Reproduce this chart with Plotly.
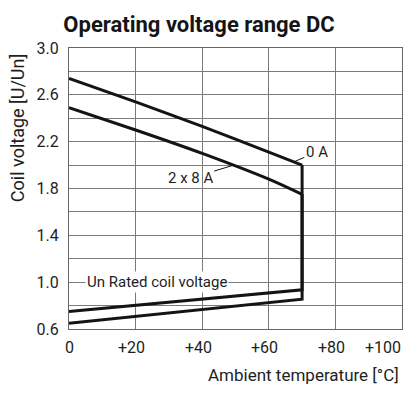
import plotly.graph_objects as go

# ---- data ----
temp = [0, 20, 40, 60, 70]                      # ambient temperature [°C]
v_max_0A = [2.74, 2.54, 2.33, 2.11, 2.00]       # upper limit, 0 A
v_max_2x8A = [2.49, 2.30, 2.10, 1.88, 1.75]     # upper limit, 2 x 8 A
temp_min = [0, 70]
v_min_0A = [0.65, 0.855]                        # lower limit, 0 A
v_min_2x8A = [0.75, 0.935]                      # lower limit, 2 x 8 A

x_tick_vals = [0, 20, 40, 60, 80, 100]
x_tick_text = ["0", "+20", "+40", "+60", "+80", "+100"]
y_tick_vals = [0.6, 1.0, 1.4, 1.8, 2.2, 2.6, 3.0]
y_tick_text = ["0.6", "1.0", "1.4", "1.8", "2.2", "2.6", "3.0"]

FONT = "Roboto, Liberation Sans, sans-serif"
TXT = "#1e1e1e"
LINE = "#141414"
GRID = "#7a7a7a"

# the page body has an 8px default margin, so the figure is 8px smaller
W, H = 411, 387

fig = go.Figure()
# upper limits: smooth curves
for v_max, name in [(v_max_0A, "0 A"), (v_max_2x8A, "2 x 8 A")]:
    fig.add_trace(go.Scatter(
        x=temp, y=v_max, mode="lines", line=dict(color=LINE, width=3, shape="spline", smoothing=0.8),
        name=name, hoverinfo="skip"))
# vertical limit at the maximum temperature plus lower limits
for v_max, v_min, name in [(v_max_0A, v_min_0A, "0 A"), (v_max_2x8A, v_min_2x8A, "2 x 8 A")]:
    fig.add_trace(go.Scatter(
        x=[temp[-1]] + temp_min[::-1], y=[v_max[-1]] + v_min[::-1],
        mode="lines", line=dict(color=LINE, width=3), name=name, hoverinfo="skip"))

# x tick labels as annotations (numbers centered, "+" hanging left)
for v, t in zip(x_tick_vals, x_tick_text):
    if v == 0:
        anchor, shift = "center", 0
    elif v == 100:
        anchor, shift = "right", 1
    else:
        anchor, shift = "center", -4
    fig.add_annotation(x=v, y=0, yref="paper", text=t, showarrow=False,
                       xanchor=anchor, yanchor="top", yshift=-7, xshift=shift,
                       font=dict(family=FONT, size=16, color=TXT))

# axis titles
fig.add_annotation(x=1.0, xref="paper", y=-0.165, yref="paper",
                   text="Ambient temperature [°C]", showarrow=False,
                   xanchor="right", yanchor="middle", xshift=-1,
                   font=dict(family=FONT, size=17, color=TXT))
fig.add_annotation(x=-0.156, xref="paper", y=0.715, yref="paper",
                   text="Coil voltage [U/Un]", showarrow=False, textangle=-90,
                   xanchor="center", yanchor="middle",
                   font=dict(family=FONT, size=18, color=TXT))

# curve labels
fig.add_annotation(x=67.5, y=2.027, text="0 A", showarrow=True, arrowhead=0,
                   arrowwidth=1, arrowcolor=LINE, ax=23, ay=-10,
                   font=dict(family=FONT, size=15, color=TXT))
fig.add_annotation(x=49.3, y=1.998, text="2 x 8 A", showarrow=True, arrowhead=0,
                   arrowwidth=1, arrowcolor=LINE, ax=-43, ay=13,
                   font=dict(family=FONT, size=15, color=TXT))
fig.add_annotation(x=26.3, y=1.0, text="Un Rated coil voltage", showarrow=False,
                   bgcolor="white", borderpad=1, xanchor="center", yanchor="middle",
                   font=dict(family=FONT, size=15, color=TXT))

fig.update_layout(
    width=W, height=H,
    margin=dict(l=61, r=17, t=40, b=66, autoexpand=False),
    paper_bgcolor="white", plot_bgcolor="white",
    showlegend=False,
    title=dict(text="<b>Operating voltage range DC</b>", x=191 / W, xanchor="center",
               y=1 - 16 / H, yanchor="middle",
               font=dict(family=FONT, size=22, color="#151515")),
    font=dict(family=FONT, size=16, color=TXT),
)
fig.update_xaxes(
    range=[0, 100], tickvals=x_tick_vals, showticklabels=False,
    showgrid=True, gridcolor=GRID, gridwidth=1, zeroline=False,
    showline=True, linecolor="#666", linewidth=1, mirror=True, ticks="",
)
fig.update_yaxes(
    range=[0.6, 3.0], tickvals=y_tick_vals, ticktext=y_tick_text,
    showgrid=True, gridcolor=GRID, gridwidth=1, zeroline=False,
    minor=dict(dtick=0.2, tick0=0.6, showgrid=True, gridcolor=GRID, gridwidth=1),
    showline=True, linecolor="#666", linewidth=1, mirror=True,
    ticks="outside", ticklen=6, tickcolor="white",
    tickfont=dict(family=FONT, size=16, color=TXT),
)

fig.write_html("out.html")
